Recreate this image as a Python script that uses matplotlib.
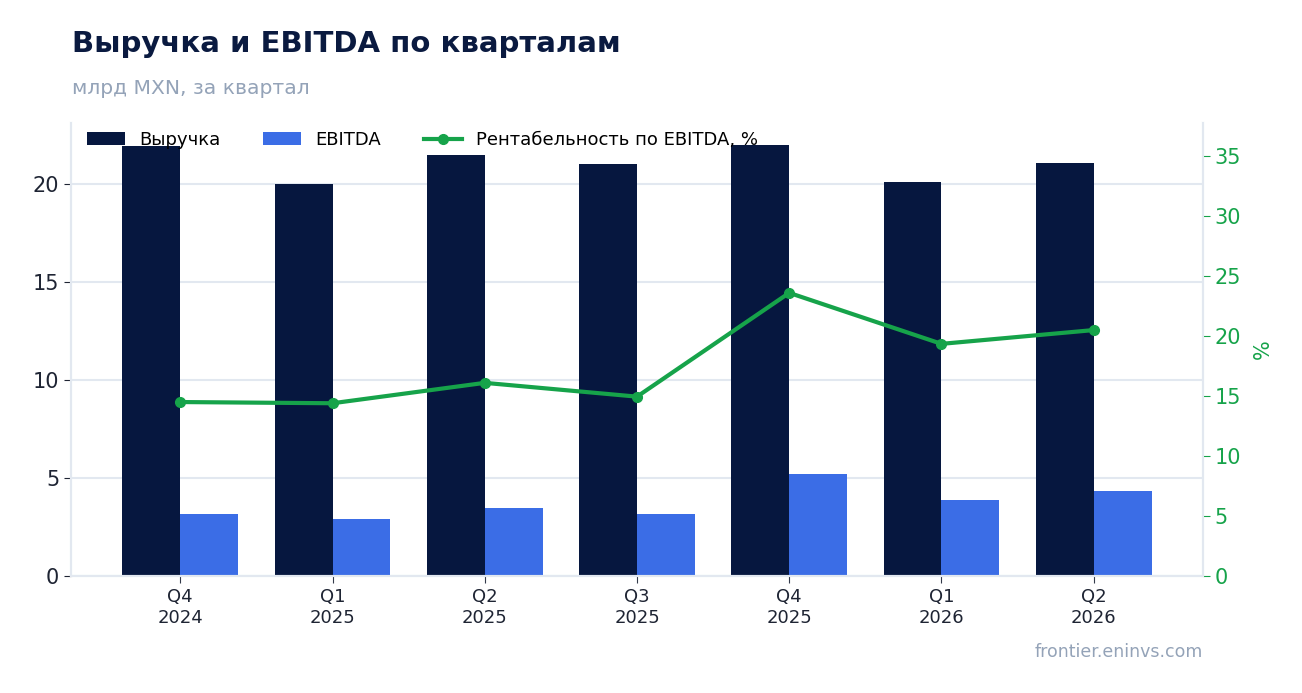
import numpy as np
import matplotlib.pyplot as plt

quarters = ['Q4\n2024', 'Q1\n2025', 'Q2\n2025', 'Q3\n2025', 'Q4\n2025', 'Q1\n2026', 'Q2\n2026']
revenue = [21.94, 20.0, 21.48, 21.02, 21.99, 20.10, 21.07]
ebitda = [3.16, 2.91, 3.47, 3.16, 5.20, 3.88, 4.34]
margin = [14.5, 14.4, 16.1, 14.95, 23.6, 19.35, 20.5]

NAVY = '#06173f'
BLUE = '#3b6de6'
GREEN = '#16a34a'
GREY = '#94a3b8'
LIGHT = '#e2e8f0'

fig = plt.figure(figsize=(13.02, 6.93), dpi=100)
ax = fig.add_axes([71 / 1302, 1 - 576 / 693, (1203 - 71) / 1302, (576 - 123) / 693])

x = np.arange(len(quarters))
w = 0.38
ax.bar(x - w / 2, revenue, w, color=NAVY, label='Выручка', zorder=2)
ax.bar(x + w / 2, ebitda, w, color=BLUE, label='EBITDA', zorder=2)
ax.set_ylim(0, max(revenue) * 1.05)
ax.set_xticks(x)
ax.set_xticklabels(quarters, fontsize=13, color='#1e2433')
ax.tick_params(axis='y', labelsize=15, colors='#1e2433', length=5)
ax.tick_params(axis='x', length=5, color='#333a4a')
ax.yaxis.grid(True, color=LIGHT, linewidth=1.5, zorder=0)
ax.set_axisbelow(True)
ax.spines['top'].set_visible(False)
for s in ['left', 'bottom', 'right']:
    ax.spines[s].set_color(LIGHT)
    ax.spines[s].set_linewidth(1.5)

ax2 = ax.twinx()
ax2.plot(x, margin, color=GREEN, linewidth=3, marker='o', markersize=7,
         label='Рентабельность по EBITDA, %', zorder=3)
ax2.set_ylim(0, max(margin) * 1.6)
ax2.tick_params(axis='y', labelsize=15, colors=GREEN, length=5)
ax2.set_ylabel('%', color=GREEN, fontsize=15, labelpad=8)
ax2.spines['top'].set_visible(False)
for s in ['left', 'bottom', 'right']:
    ax2.spines[s].set_color(LIGHT)
    ax2.spines[s].set_linewidth(1.5)

h1, l1 = ax.get_legend_handles_labels()
h2, l2 = ax2.get_legend_handles_labels()
ax2.legend(h1 + h2, l1 + l2, loc='upper left', ncol=3, frameon=False,
           fontsize=13, bbox_to_anchor=(0.0, 1.018), handlelength=2.1, columnspacing=2.35)

fig.text(72 / 1302, 1 - 44 / 693, 'Выручка и EBITDA по кварталам', fontsize=21,
         fontweight='bold', color='#0a1a40', va='center', ha='left')
fig.text(72 / 1302, 1 - 88 / 693, 'млрд MXN, за квартал', fontsize=14.6,
         color=GREY, va='center', ha='left')
fig.text(1203 / 1302, 1 - 652 / 693, 'frontier.eninvs.com', fontsize=12.5,
         color=GREY, va='center', ha='right')

fig.savefig('out.png', dpi=100)
